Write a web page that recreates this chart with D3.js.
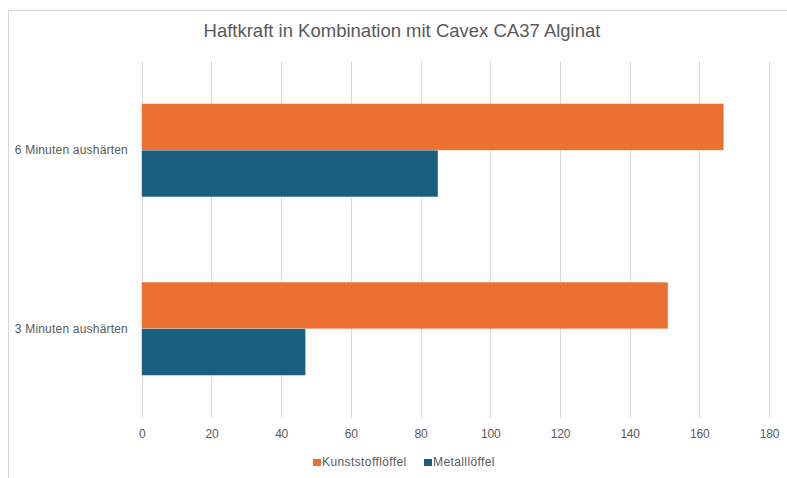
<!DOCTYPE html>
<html><head><meta charset="utf-8">
<script src="https://cdn.jsdelivr.net/npm/d3@7"></script>
<style>body{margin:0;background:#fff}svg{display:block}text{font-family:"Liberation Sans",Arial,sans-serif;fill:#595959}</style>
</head><body>
<svg id="c" width="787" height="478"></svg>
<script>
const categories = ["6 Minuten aushärten", "3 Minuten aushärten"];
const seriesNames = ["Kunststofflöffel", "Metalllöffel"];
const kunststoff = [167, 151];
const metall = [85, 47];
const xTicks = [0, 20, 40, 60, 80, 100, 120, 140, 160, 180];
const colors = ["#ec7031", "#1a5f80"];
const title = "Haftkraft in Kombination mit Cavex CA37 Alginat";

const svg = d3.select("#c");
svg.append("rect").attr("x", 8.5).attr("y", 10.5).attr("width", 800).attr("height", 500)
  .attr("fill", "#fff").attr("stroke", "#d9d9d9");

const m = {l: 141.7, r: 769, t: 61, b: 418};
const x = d3.scaleLinear().domain([0, 180]).range([m.l, m.r]);
const y = d3.scaleBand().domain(categories).range([m.t, m.b]);
const bw = 46.6;

// gridlines
svg.append("g").selectAll("line").data(xTicks).join("line")
  .attr("x1", d => Math.round(x(d)) + 0.5).attr("x2", d => Math.round(x(d)) + 0.5)
  .attr("y1", m.t).attr("y2", m.b).attr("stroke", "#d9d9d9").attr("stroke-width", 1);

// tick labels
const ax = d3.axisBottom(x).tickValues(xTicks).tickSize(0).tickPadding(0);
const axG = svg.append("g").attr("transform", `translate(0,${m.b})`).call(ax);
axG.select(".domain").remove();
axG.selectAll("text").attr("dy", null).attr("y", 19.5).style("font-size", "12px")
  .style("font-family", '"Liberation Sans",Arial,sans-serif').attr("fill", "#595959").style("letter-spacing", "-0.2px");

const data = [kunststoff, metall];
const g = svg.append("g");
seriesNames.forEach((s, si) => {
  g.selectAll(null).data(categories).join("rect")
    .attr("x", x(0))
    .attr("y", (c) => y(c) + y.bandwidth() / 2 - bw + si * bw)
    .attr("height", bw)
    .attr("width", (c, i) => x(data[si][i]) - x(0))
    .attr("fill", colors[si])
    .attr("stroke", "#ffffff").attr("stroke-opacity", 0.35).attr("stroke-width", 0.75);
});

// category labels
svg.append("g").selectAll("text").data(categories).join("text")
  .attr("x", 128).attr("y", c => y(c) + y.bandwidth() / 2 + 4)
  .attr("text-anchor", "end").style("font-size", "12px").style("letter-spacing", "0.2px").text(d => d);

// title
svg.append("text").attr("x", 402).attr("y", 37).attr("text-anchor", "middle")
  .style("font-size", "18.5px").style("letter-spacing", "0px").text(title);

// legend
const lg = svg.append("g");
const lx = [313, 424];
seriesNames.forEach((s, i) => {
  lg.append("rect").attr("x", lx[i]).attr("y", 459).attr("width", 8).attr("height", 7).attr("fill", colors[i]);
  lg.append("text").attr("x", lx[i] + 9).attr("y", 466).style("font-size", "12px").style("letter-spacing", "0.4px").text(s);
});
</script>
</body></html>
